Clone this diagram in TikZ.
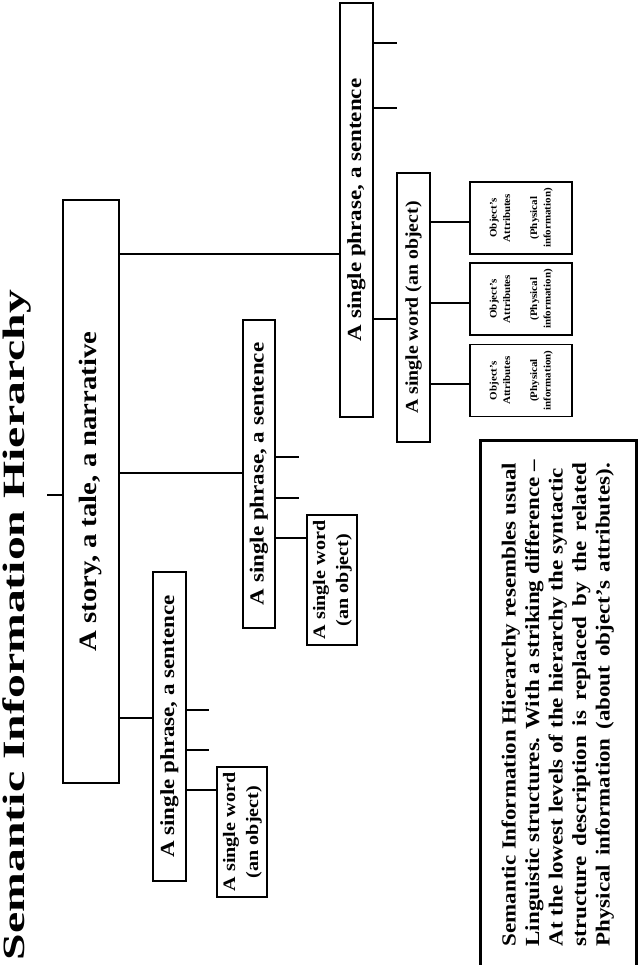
\documentclass[tikz,border=0pt]{standalone}
\usepackage{fontspec}
\setmainfont{Liberation Serif}
\usepackage{tikz}
\newcommand{\wide}[2][1.15]{\scalebox{#1}[1]{#2}}
\newlength{\notewd}
\tikzset{
    %Define style for boxes
    box/.style={
           draw,
           line width=1.5pt,
           rotate=90,
           inner sep=0pt,
           align=center},
    % Define line style
    link/.style={
           line width=1.8pt},
    % Define fonts
    headfont/.style={font=\bfseries\fontsize{31}{36}\selectfont},
    storyfont/.style={font=\bfseries\fontsize{25}{30}\selectfont},
    phrasefont/.style={font=\bfseries\fontsize{20}{24}\selectfont},
    wordfont/.style={font=\bfseries\fontsize{17.5}{23}\selectfont},
    attrfont/.style={font=\bfseries\fontsize{10}{13.5}\selectfont},
    notefont/.style={font=\bfseries\fontsize{20}{23.5}\selectfont}
}

\begin{document}
\begin{tikzpicture}[x=1pt,y=1pt]
	% Styles
	\tikzstyle{attr} = [box, attrfont, line width=1.2pt, minimum width=72pt, minimum height=102pt]
	\useasboundingbox (0,0) rectangle (640,-965);

	% Code blocks
	\node[rotate=90, inner sep=0pt, headfont] (heading) at (16.5,-625) {\wide[1.54]{Semantic Information Hierarchy}};
	\node[box, storyfont, minimum width=583pt, minimum height=56pt] (story) at (91,-491.5) {\wide{A story, a tale, a narrative}};

	\node[box, phrasefont, minimum width=309pt, minimum height=33pt] (phrase1) at (169.5,-726.5) {\wide{A single phrase, a sentence}};
	\node[box, phrasefont, minimum width=308pt, minimum height=32pt] (phrase2) at (259,-474) {\wide{A single phrase, a sentence}};
	\node[box, phrasefont, minimum width=414pt, minimum height=33pt] (phrase3) at (356.5,-210) {\wide{A single phrase, a sentence}};

	\node[box, wordfont, minimum width=130pt, minimum height=50pt] (word1) at (242,-832) {\wide{\begin{tabular}{@{}c@{}}A single word\\(an object)\end{tabular}}};
	\node[box, wordfont, minimum width=130pt, minimum height=50pt] (word2) at (332,-580) {\wide{\begin{tabular}{@{}c@{}}A single word\\(an object)\end{tabular}}};
	\node[box, font=\bfseries\fontsize{18}{22}\selectfont, minimum width=269pt, minimum height=33pt] (word3) at (413.5,-307.5) {\wide[1.1]{A single word (an object)}};

	\node[attr] (attr1) at (521,-218) {\wide[1.1]{\begin{tabular}{@{}c@{}}Object's\\Attributes\\[13.5pt](Physical\\information)\end{tabular}}};
	\node[attr] (attr2) at (521,-299) {\wide[1.1]{\begin{tabular}{@{}c@{}}Object's\\Attributes\\[13.5pt](Physical\\information)\end{tabular}}};
	\node[attr] (attr3) at (521,-380.5) {\wide[1.1]{\begin{tabular}{@{}c@{}}Object's\\Attributes\\[13.5pt](Physical\\information)\end{tabular}}};

	\node[box, notefont, line width=3pt, minimum width=526pt, minimum height=156pt] (note) at (558,-703) {\settowidth{\notewd}{Semantic Information Hierarchy resembles usual}%
	  \wide{\begin{tabular}{@{}l@{}}
	  Semantic Information Hierarchy resembles usual\\
	  Linguistic structures. With a striking difference --\\
	  At the lowest levels of the hierarchy the syntactic\\
	  \makebox[\notewd][s]{structure description is replaced by the related}\\
	  \makebox[\notewd][s]{Physical information (about object's attributes).}
	  \end{tabular}}};

	% free ends
	\coordinate (up) at (47,-495);
	\coordinate (s1a) at (209,-710);
	\coordinate (s1b) at (209,-750);
	\coordinate (s2a) at (299,-457);
	\coordinate (s2b) at (299,-498);
	\coordinate (s3a) at (397,-43);
	\coordinate (s3b) at (397,-108);

	\path[link] (story.south |- 0,-718) edge (phrase1.north |- 0,-718)
	            (story.south |- 0,-473) edge (phrase2.north |- 0,-473)
	            (story.south |- 0,-254) edge (phrase3.north |- 0,-254)
	            (story.north |- up) edge (up);

	\path[link] (phrase1.south |- s1a) edge (s1a)
	            (phrase1.south |- s1b) edge (s1b)
	            (phrase1.south |- 0,-790) edge (word1.north |- 0,-790)
	            (phrase2.south |- s2a) edge (s2a)
	            (phrase2.south |- s2b) edge (s2b)
	            (phrase2.south |- 0,-538) edge (word2.north |- 0,-538)
	            (phrase3.south |- s3a) edge (s3a)
	            (phrase3.south |- s3b) edge (s3b)
	            (phrase3.south |- 0,-319) edge (word3.north |- 0,-319);

	\path[link, line width=1.2pt] (word3.south |- 0,-222) edge (attr1.north |- 0,-222)
	            (word3.south |- 0,-303) edge (attr2.north |- 0,-303)
	            (word3.south |- 0,-384) edge (attr3.north |- 0,-384);
\end{tikzpicture}
\end{document}
